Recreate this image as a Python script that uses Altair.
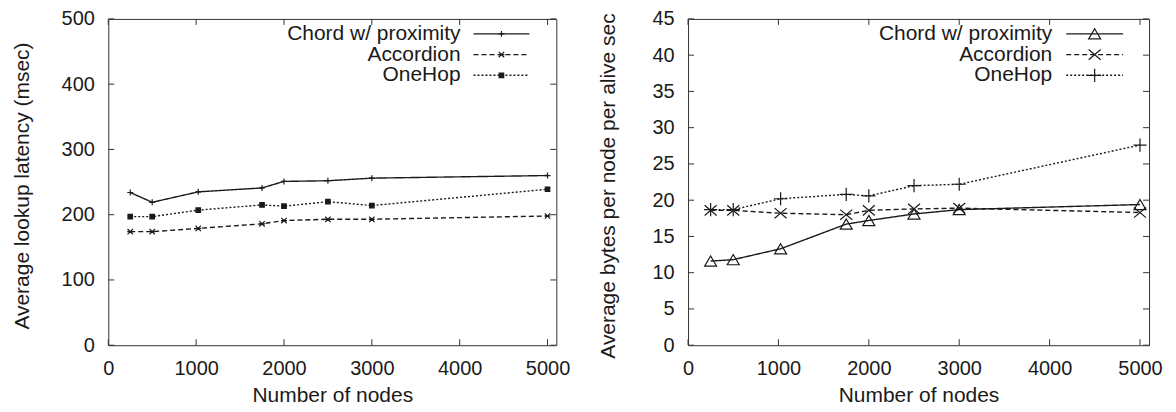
import altair as alt
import pandas as pd

# ---------------- data ----------------
nodes = [250, 500, 1024, 1750, 2000, 2500, 3000, 5000]
series = ["Chord w/ proximity", "Accordion", "OneHop"]

lat_chord = [234, 219, 235, 241, 251, 252, 256, 260]
lat_accordion = [174, 174, 179, 186, 191, 193, 193, 198]
lat_onehop = [197, 197, 207, 215, 213, 220, 214, 239]

bw_chord = [11.6, 11.8, 13.3, 16.7, 17.2, 18.1, 18.7, 19.4]
bw_accordion = [18.6, 18.6, 18.2, 18.0, 18.6, 18.8, 18.9, 18.3]
bw_onehop = [18.7, 18.7, 20.2, 20.8, 20.6, 22.0, 22.2, 27.6]

x_ticks = [0, 1000, 2000, 3000, 4000, 5000]
lat_ticks = [0, 100, 200, 300, 400, 500]
bw_ticks = [0, 5, 10, 15, 20, 25, 30, 35, 40, 45]

x_title = "Number of nodes"
lat_title = "Average lookup latency (msec)"
bw_title = "Average bytes per node per alive sec"

# ---------------- style ----------------
FONT = "Liberation Sans"
INK = "#1a1a1a"
FRAME = "#333333"
H = 327


def panel(vals, yticks, ydomain, width, ytitle, title_x, title_y, title_size,
          shapes, fills, msize, legend_x):
    rows = []
    for s, v in zip(series, vals):
        for n, y in zip(nodes, v):
            rows.append({"nodes": n, "value": y, "series": s})
    df = pd.DataFrame(rows)

    xscale = alt.Scale(domain=[0, 5100], nice=False, zero=False)
    yscale = alt.Scale(domain=ydomain, nice=False, zero=False)
    xaxis = alt.Axis(values=x_ticks, domain=False, ticks=False, tickSize=0, grid=False,
                     labelPadding=13.5, labelFlush=False, labelOverlap=False,
                     labelFontSize=20, titleFontSize=21, titlePadding=6, format="d")
    yaxis = alt.Axis(values=yticks, domain=False, ticks=False, tickSize=0, grid=False,
                     labelPadding=14, labelFontSize=20, labelOverlap=False,
                     titleFontSize=title_size, titleAngle=270, titleX=title_x, titleY=title_y,
                     titleAlign="center", titleBaseline="middle", format="d")
    X = alt.X("nodes:Q", scale=xscale, axis=xaxis, title=x_title)
    Y = alt.Y("value:Q", scale=yscale, axis=yaxis, title=ytitle)

    dash = alt.StrokeDash("series:N", scale=alt.Scale(domain=series, range=[[1, 0], [5, 3], [2, 2]]),
                          legend=None)
    shape = alt.Shape("series:N", scale=alt.Scale(domain=series, range=shapes), legend=None)
    fill = alt.Fill("series:N", scale=alt.Scale(domain=series, range=fills), legend=None)

    base = alt.Chart(df)
    lines = base.mark_line(color=INK, strokeWidth=1.4).encode(x=X, y=Y, strokeDash=dash, detail="series:N")
    pts = base.mark_point(filled=False, color=INK, strokeWidth=1.2, opacity=1, size=msize).encode(
        x=X, y=Y, shape=shape, fill=fill)

    xt = alt.Chart(pd.DataFrame({"nodes": x_ticks}))
    yt = alt.Chart(pd.DataFrame({"value": yticks}))
    tb = xt.mark_rule(color=FRAME, strokeWidth=1).encode(x=X, y=alt.value(H), y2=alt.value(H - 6))
    tt = xt.mark_rule(color=FRAME, strokeWidth=1).encode(x=X, y=alt.value(0), y2=alt.value(6))
    tl = yt.mark_rule(color=FRAME, strokeWidth=1).encode(y=Y, x=alt.value(0), x2=alt.value(6))
    tr = yt.mark_rule(color=FRAME, strokeWidth=1).encode(y=Y, x=alt.value(width - 6), x2=alt.value(width))

    main = alt.layer(lines, pts, tb, tt, tl, tr)

    leg = alt.Chart(pd.DataFrame({"series": series, "row": list(range(len(series)))}))
    LY = alt.Y("row:Q", axis=None,
               scale=alt.Scale(domain=[0, len(series) - 1], range=[15, 56.5], nice=False, zero=False))
    tx, l0, l1 = legend_x
    ltext = leg.mark_text(align="right", baseline="middle", font=FONT, fontSize=21, color=INK).encode(
        x=alt.value(tx), y=LY, text="series:N")
    lrule = leg.mark_rule(color=INK, strokeWidth=1.4).encode(
        x=alt.value(l0), x2=alt.value(l1), y=LY, strokeDash=dash)
    lpt = leg.mark_point(filled=False, color=INK, strokeWidth=1.2, opacity=1, size=msize).encode(
        x=alt.value((l0 + l1) / 2), y=LY, shape=shape, fill=fill)
    legend = alt.layer(ltext, lrule, lpt)

    return alt.layer(main, legend).resolve_scale(y="independent").properties(width=width, height=H)


left = panel(
    [lat_chord, lat_accordion, lat_onehop], lat_ticks, [0, 500], 449, lat_title, -86, 167, 21,
    ["M-1,0H1M0,-1V1", "M-0.9,-0.9L0.9,0.9M-0.9,0.9L0.9,-0.9M-1,0H1", "M-0.75,-0.75H0.75V0.75H-0.75Z"],
    ["transparent", "transparent", INK], 36, (353, 366, 422))

right = panel(
    [bw_chord, bw_accordion, bw_onehop], bw_ticks, [0, 45], 462, bw_title, -80, 167, 21,
    ["M0,-0.85L1,0.85L-1,0.85Z", "M-1,-0.85L1,0.85M-1,0.85L1,-0.85", "M-1.1,0H1.1M0,-1.1V1.1"],
    ["transparent", "transparent", "transparent"], 144, (365, 379, 436))

chart = alt.hconcat(left, right, spacing=132, bounds="flush").resolve_scale(
    shape="independent", fill="independent", strokeDash="independent"
).properties(
    padding={"left": 2.5, "top": -0.5, "right": 5, "bottom": 5},
    background="white",
).configure_view(stroke=FRAME, strokeWidth=1).configure_axis(
    labelFont=FONT, titleFont=FONT, labelColor=INK, titleColor=INK, titleFontWeight="normal")

chart.save("out.html", embed_options={"renderer": "svg", "actions": False})
